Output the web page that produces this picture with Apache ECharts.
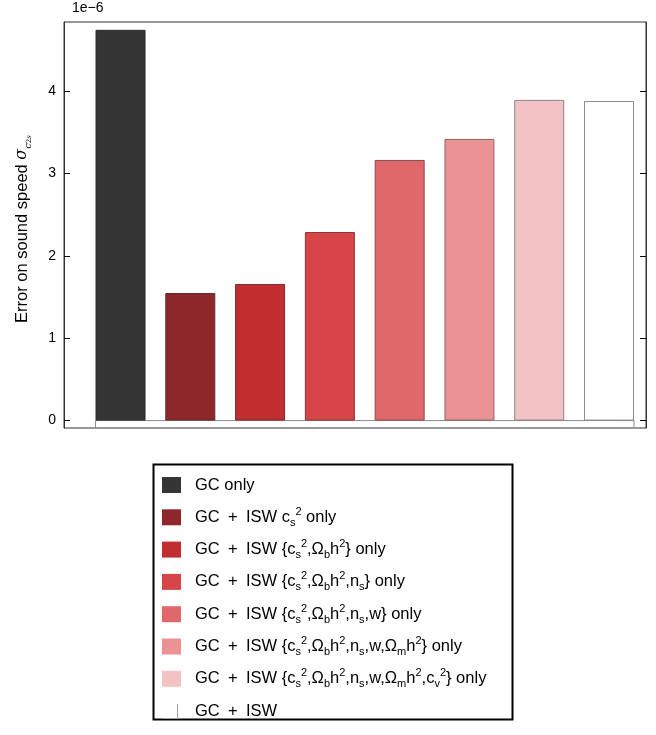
<!DOCTYPE html>
<html><head><meta charset="utf-8">
<script src="https://cdn.jsdelivr.net/npm/echarts@6/dist/echarts.min.js"></script>
<style>html,body{margin:0;padding:0;background:#fff}#c{width:656px;height:735px}</style>
</head><body><div id="c"></div>
<script>
// ---- data ----
const categories = [
  "GC only",
  "GC + ISW c_s^2 only",
  "GC + ISW {c_s^2,Ω_bh^2} only",
  "GC + ISW {c_s^2,Ω_bh^2,n_s} only",
  "GC + ISW {c_s^2,Ω_bh^2,n_s,w} only",
  "GC + ISW {c_s^2,Ω_bh^2,n_s,w,Ω_mh^2} only",
  "GC + ISW {c_s^2,Ω_bh^2,n_s,w,Ω_mh^2,c_v^2} only",
  "GC + ISW"
];
const positions = [0, 1, 2, 3, 4, 5, 6, 7];
const errors = [4.745, 1.549, 1.658, 2.290, 3.165, 3.420, 3.894, 3.880]; // ×1e-6
const yTicks = [0, 1, 2, 3, 4];
const colors = ["#353535", "#8e2729", "#c02e30", "#d64548", "#e0676a", "#ea9294", "#f2c2c4", "#ffffff"];
const borders = ["#2a2a2a", "#5e2a2b", "#7a2a2c", "#8a3536", "#8a4a4c", "#8d6465", "#8e8384", "#8a8a8a"];

const YMIN = -0.09, YMAX = 4.84, HALF = 0.358;

const FONT = "Liberation Sans";
const legendRich = {
  n: {fontSize: 16.5, lineHeight: 22, fontFamily: FONT, color: "#000"},
  sp: {fontSize: 11, lineHeight: 11, verticalAlign: "top", fontFamily: FONT, color: "#000"},
  sb: {fontSize: 11, lineHeight: 9, verticalAlign: "bottom", fontFamily: FONT, color: "#000"}
};
const P = "GC\u2002+\u2002ISW";
// closing braces are written as plain text (outside rich tokens)
const legendLabels = {};
legendLabels[categories[0]] = "{n|GC only}";
legendLabels[categories[1]] = "{n|" + P + " c}{sb|s}{sp|2}{n| only}";
legendLabels[categories[2]] = "{n|" + P + " {c}{sb|s}{sp|2}{n|,Ω}{sb|b}{n|h}{sp|2}}{n| only}";
legendLabels[categories[3]] = "{n|" + P + " {c}{sb|s}{sp|2}{n|,Ω}{sb|b}{n|h}{sp|2}{n|,n}{sb|s}}{n| only}";
legendLabels[categories[4]] = "{n|" + P + " {c}{sb|s}{sp|2}{n|,Ω}{sb|b}{n|h}{sp|2}{n|,n}{sb|s}{n|,w}}{n| only}";
legendLabels[categories[5]] = "{n|" + P + " {c}{sb|s}{sp|2}{n|,Ω}{sb|b}{n|h}{sp|2}{n|,n}{sb|s}{n|,w,Ω}{sb|m}{n|h}{sp|2}}{n| only}";
legendLabels[categories[6]] = "{n|" + P + " {c}{sb|s}{sp|2}{n|,Ω}{sb|b}{n|h}{sp|2}{n|,n}{sb|s}{n|,w,Ω}{sb|m}{n|h}{sp|2}{n|,c}{sb|v}{sp|2}}{n| only}";
legendLabels[categories[7]] = "{n|" + P + "}";

const series = categories.map((name, i) => ({
  name: name,
  type: "bar",
  barWidth: 50,
  barGap: "-100%",
  data: [[positions[i], errors[i]]],
  itemStyle: {color: colors[i], borderColor: borders[i], borderWidth: 1},
  emphasis: {disabled: true},
  silent: true
}));
// step outline of the "GC + ISW" histogram along the baseline
const first = positions[0] - HALF, last = positions[positions.length - 1] + HALF;
series.push({
  type: "line",
  data: [[first, YMIN], [first, 0], [last, 0], [last, YMIN]],
  symbol: "none",
  lineStyle: {color: "#8a8a8a", width: 1},
  silent: true,
  z: 1
});

const chart = echarts.init(document.getElementById("c"));
chart.setOption({
  animation: false,
  backgroundColor: "#fff",
  grid: {left: 64, right: 10, top: 22, bottom: 307, show: true, borderColor: "#333", borderWidth: 1, backgroundColor: "transparent"},
  xAxis: {type: "value", min: -0.81, max: 7.53, show: false},
  yAxis: [
    {type: "value", min: YMIN, max: YMAX, position: "left",
     axisLine: {show: true, onZero: false, lineStyle: {color: "#333"}}, splitLine: {show: false},
     axisTick: {show: true, inside: true, length: 6, lineStyle: {color: "#000", width: 1}, customValues: yTicks},
     axisLabel: {show: true, margin: 8, fontSize: 14, fontFamily: FONT, color: "#000", customValues: yTicks}},
    {type: "value", min: YMIN, max: YMAX, position: "right",
     axisLine: {show: true, onZero: false, lineStyle: {color: "#333"}}, splitLine: {show: false},
     axisTick: {show: true, inside: true, length: 6, lineStyle: {color: "#000", width: 1}, customValues: yTicks},
     axisLabel: {show: false}}
  ],
  legend: {
    orient: "vertical", left: 162, top: 474, padding: 0,
    itemWidth: 19, itemHeight: 16, itemGap: 10.3,
    data: categories.map((c, i) => i === 7
      ? {name: c, icon: "path://M0,0L0.01,0L0.01,0.01Z M19,0L19.01,0L19.01,0.01Z M15,1L16,1L16,16L1,16L1,15L15,15Z", itemStyle: {color: "#a0a0a0", borderWidth: 0}}
      : {name: c, icon: "rect", itemStyle: {borderWidth: 0}}),
    formatter: (name) => legendLabels[name],
    textStyle: {fontSize: 16.5, lineHeight: 22, fontFamily: FONT, color: "#000", rich: legendRich, padding: [0, 0, 0, 9]},
    selectedMode: false
  },
  graphic: [
    {type: "rect", left: 151, top: 462, shape: {width: 359, height: 255}, style: {fill: "none", stroke: "#000", lineWidth: 2}, silent: true},
    {type: "text", left: 72, top: 1, style: {text: "1e\u22126", font: "14px Liberation Sans", fill: "#000"}},
    {type: "text", x: 22, y: 229, rotation: Math.PI / 2,
     style: {
       text: "{t|Error on sound speed }{g|σ}{c|c}{sp|2}{sb|s}",
       align: "center", verticalAlign: "middle",
       rich: {
         t: {fontSize: 16.5, lineHeight: 22, fontFamily: FONT, fill: "#000"},
         g: {fontSize: 16, lineHeight: 22, fontStyle: "italic", fontFamily: "DejaVu Serif", fill: "#000"},
         c: {fontSize: 10, lineHeight: 14, verticalAlign: "bottom", fontStyle: "italic", fontFamily: "DejaVu Serif", fill: "#000"},
         sp: {fontSize: 7, lineHeight: 17, verticalAlign: "bottom", fontFamily: "DejaVu Serif", fill: "#000"},
         sb: {fontSize: 7, lineHeight: 7, verticalAlign: "bottom", fontStyle: "italic", fontFamily: "DejaVu Serif", fill: "#000"}
       }
     }}
  ],
  series: series
});
</script></body></html>
